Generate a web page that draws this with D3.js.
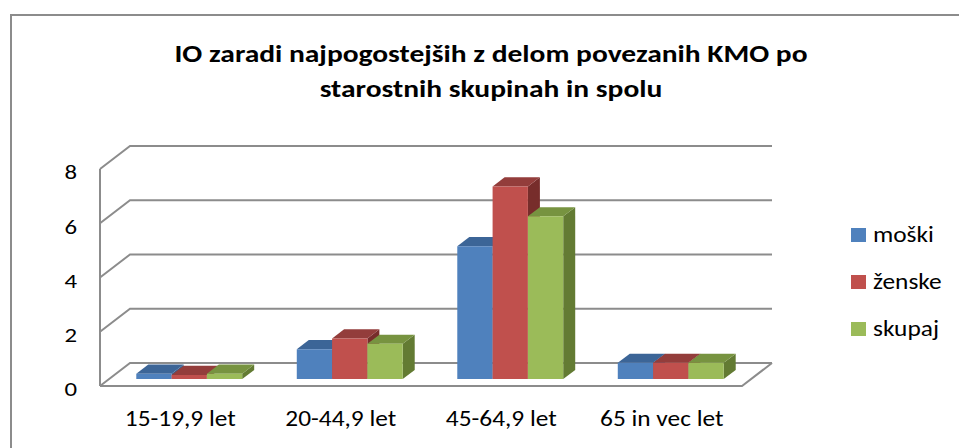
<!DOCTYPE html>
<html>
<head>
<meta charset="utf-8">
<script src="https://cdn.jsdelivr.net/npm/d3@7"></script>
<style>
  body { margin: 0; background: #fff; }
  text { font-family: Carlito, Calibri, Lato, sans-serif; fill: #000; }
</style>
</head>
<body>
<div id="root"></div>
<script>
const width = 959;
const height = 448;

// data
const categories = ['15-19,9 let', '20-44,9 let', '45-64,9 let', '65 in vec let'];
const series = ['moški', 'ženske', 'skupaj'];
const moski = [0.2, 1.1, 4.9, 0.6];
const zenske = [0.15, 1.5, 7.1, 0.6];
const skupaj = [0.2, 1.3, 6.0, 0.6];
const yTicks = [0, 2, 4, 6, 8];
const titleLines = ['IO zaradi najpogostejših z delom povezanih KMO po', 'starostnih skupinah in spolu'];

const values = [moski, zenske, skupaj];
const colors = {
  front: ['#4F81BD', '#C0504D', '#9BBB59'],
  top: ['#3C6597', '#933D3B', '#779340'],
  side: ['#385D8A', '#772D2B', '#637B33']
};

// 3d depth of the plot box
const depthX = 30, depthY = -23;
const proj = (x, y, z) => [x + depthX * z, y + depthY * z];

const x0 = d3.scaleBand().domain(categories).range([100, 742]);
const y = d3.scaleLinear().domain([0, 8]).range([386, 169]);
const groupW = x0.bandwidth() * 0.66;
const x1 = d3.scaleBand().domain(series).range([0, groupW]);
const z0 = 0.3, z1 = 0.7;

// text in the picture is wider than the font: stretch horizontally
const sx = 1.18;
const place = (fx, fy) => (d, i) => `translate(${fx(d, i)},${fy(d, i)}) scale(${sx},1)`;

const svg = d3.select('#root').append('svg')
  .attr('width', width)
  .attr('height', height);

// chart border
svg.append('rect')
  .attr('x', 11).attr('y', 15)
  .attr('width', 960).attr('height', 450)
  .attr('fill', 'none')
  .attr('stroke', '#8c8c8c')
  .attr('stroke-width', 2);

// title
svg.append('g')
  .selectAll('text')
  .data(titleLines)
  .join('text')
  .attr('text-anchor', 'middle')
  .attr('font-weight', 'bold')
  .attr('font-size', 25)
  .attr('transform', place(() => 491, (d, i) => 62 + i * 35))
  .text(d => d);

const grid = svg.append('g')
  .attr('fill', 'none')
  .attr('stroke', '#8c8c8c')
  .attr('stroke-width', 2);

const line = d3.line();
const [bx1] = proj(x0.range()[1], 0, 1);

yTicks.forEach(v => {
  const f = [x0.range()[0], y(v)];
  const b = proj(f[0], f[1], 1);
  grid.append('path').attr('d', line([f, b, [bx1, b[1]]]));
});
// left front edge
grid.append('path').attr('d', line([[x0.range()[0], y(8)], [x0.range()[0], y(0)]]));
// floor front and right edges
grid.append('path').attr('d', line([
  [x0.range()[0], y(0)], [x0.range()[1], y(0)], proj(x0.range()[1], y(0), 1)
]));

// y axis labels
svg.append('g')
  .selectAll('text')
  .data(yTicks)
  .join('text')
  .attr('transform', place(() => 77, d => y(d) + 3))
  .attr('dy', '0.35em')
  .attr('text-anchor', 'end')
  .attr('font-size', 21)
  .text(d => d);

// category labels
svg.append('g')
  .selectAll('text')
  .data(categories)
  .join('text')
  .attr('transform', place(d => x0(d) + x0.bandwidth() / 2, () => 418))
  .attr('dy', '0.35em')
  .attr('text-anchor', 'middle')
  .attr('font-size', 21.5)
  .text(d => d);

// bars
const bars = [];
categories.forEach((c, ci) => {
  series.forEach((s, si) => {
    bars.push({ c, s, si, v: values[si][ci] });
  });
});

const poly = pts => 'M' + pts.map(p => p.join(',')).join('L') + 'Z';

const bar = svg.append('g')
  .selectAll('g')
  .data(bars)
  .join('g');

const corners = d => {
  const xl = x0(d.c) + (x0.bandwidth() - groupW) / 2 + x1(d.s);
  const xr = xl + x1.bandwidth();
  return { xl, xr, yt: y(d.v), yb: y(0) };
};

bar.append('path')
  .attr('fill', d => colors.side[d.si])
  .attr('d', d => {
    const k = corners(d);
    return poly([proj(k.xr, k.yt, z0), proj(k.xr, k.yt, z1), proj(k.xr, k.yb, z1), proj(k.xr, k.yb, z0)]);
  });

bar.append('path')
  .attr('fill', d => colors.top[d.si])
  .attr('d', d => {
    const k = corners(d);
    return poly([proj(k.xl, k.yt, z0), proj(k.xr, k.yt, z0), proj(k.xr, k.yt, z1), proj(k.xl, k.yt, z1)]);
  });

bar.append('path')
  .attr('fill', d => colors.front[d.si])
  .attr('d', d => {
    const k = corners(d);
    return poly([proj(k.xl, k.yt, z0), proj(k.xr, k.yt, z0), proj(k.xr, k.yb, z0), proj(k.xl, k.yb, z0)]);
  });

// legend
const legend = svg.append('g')
  .selectAll('g')
  .data(series)
  .join('g')
  .attr('transform', (d, i) => `translate(851,${228 + i * 47})`);

legend.append('rect')
  .attr('width', 15).attr('height', 14)
  .attr('fill', (d, i) => colors.front[i]);

legend.append('text')
  .attr('transform', place(() => 22, () => 14))
  .attr('font-size', 21.5)
  .text(d => d);
</script>
</body>
</html>
